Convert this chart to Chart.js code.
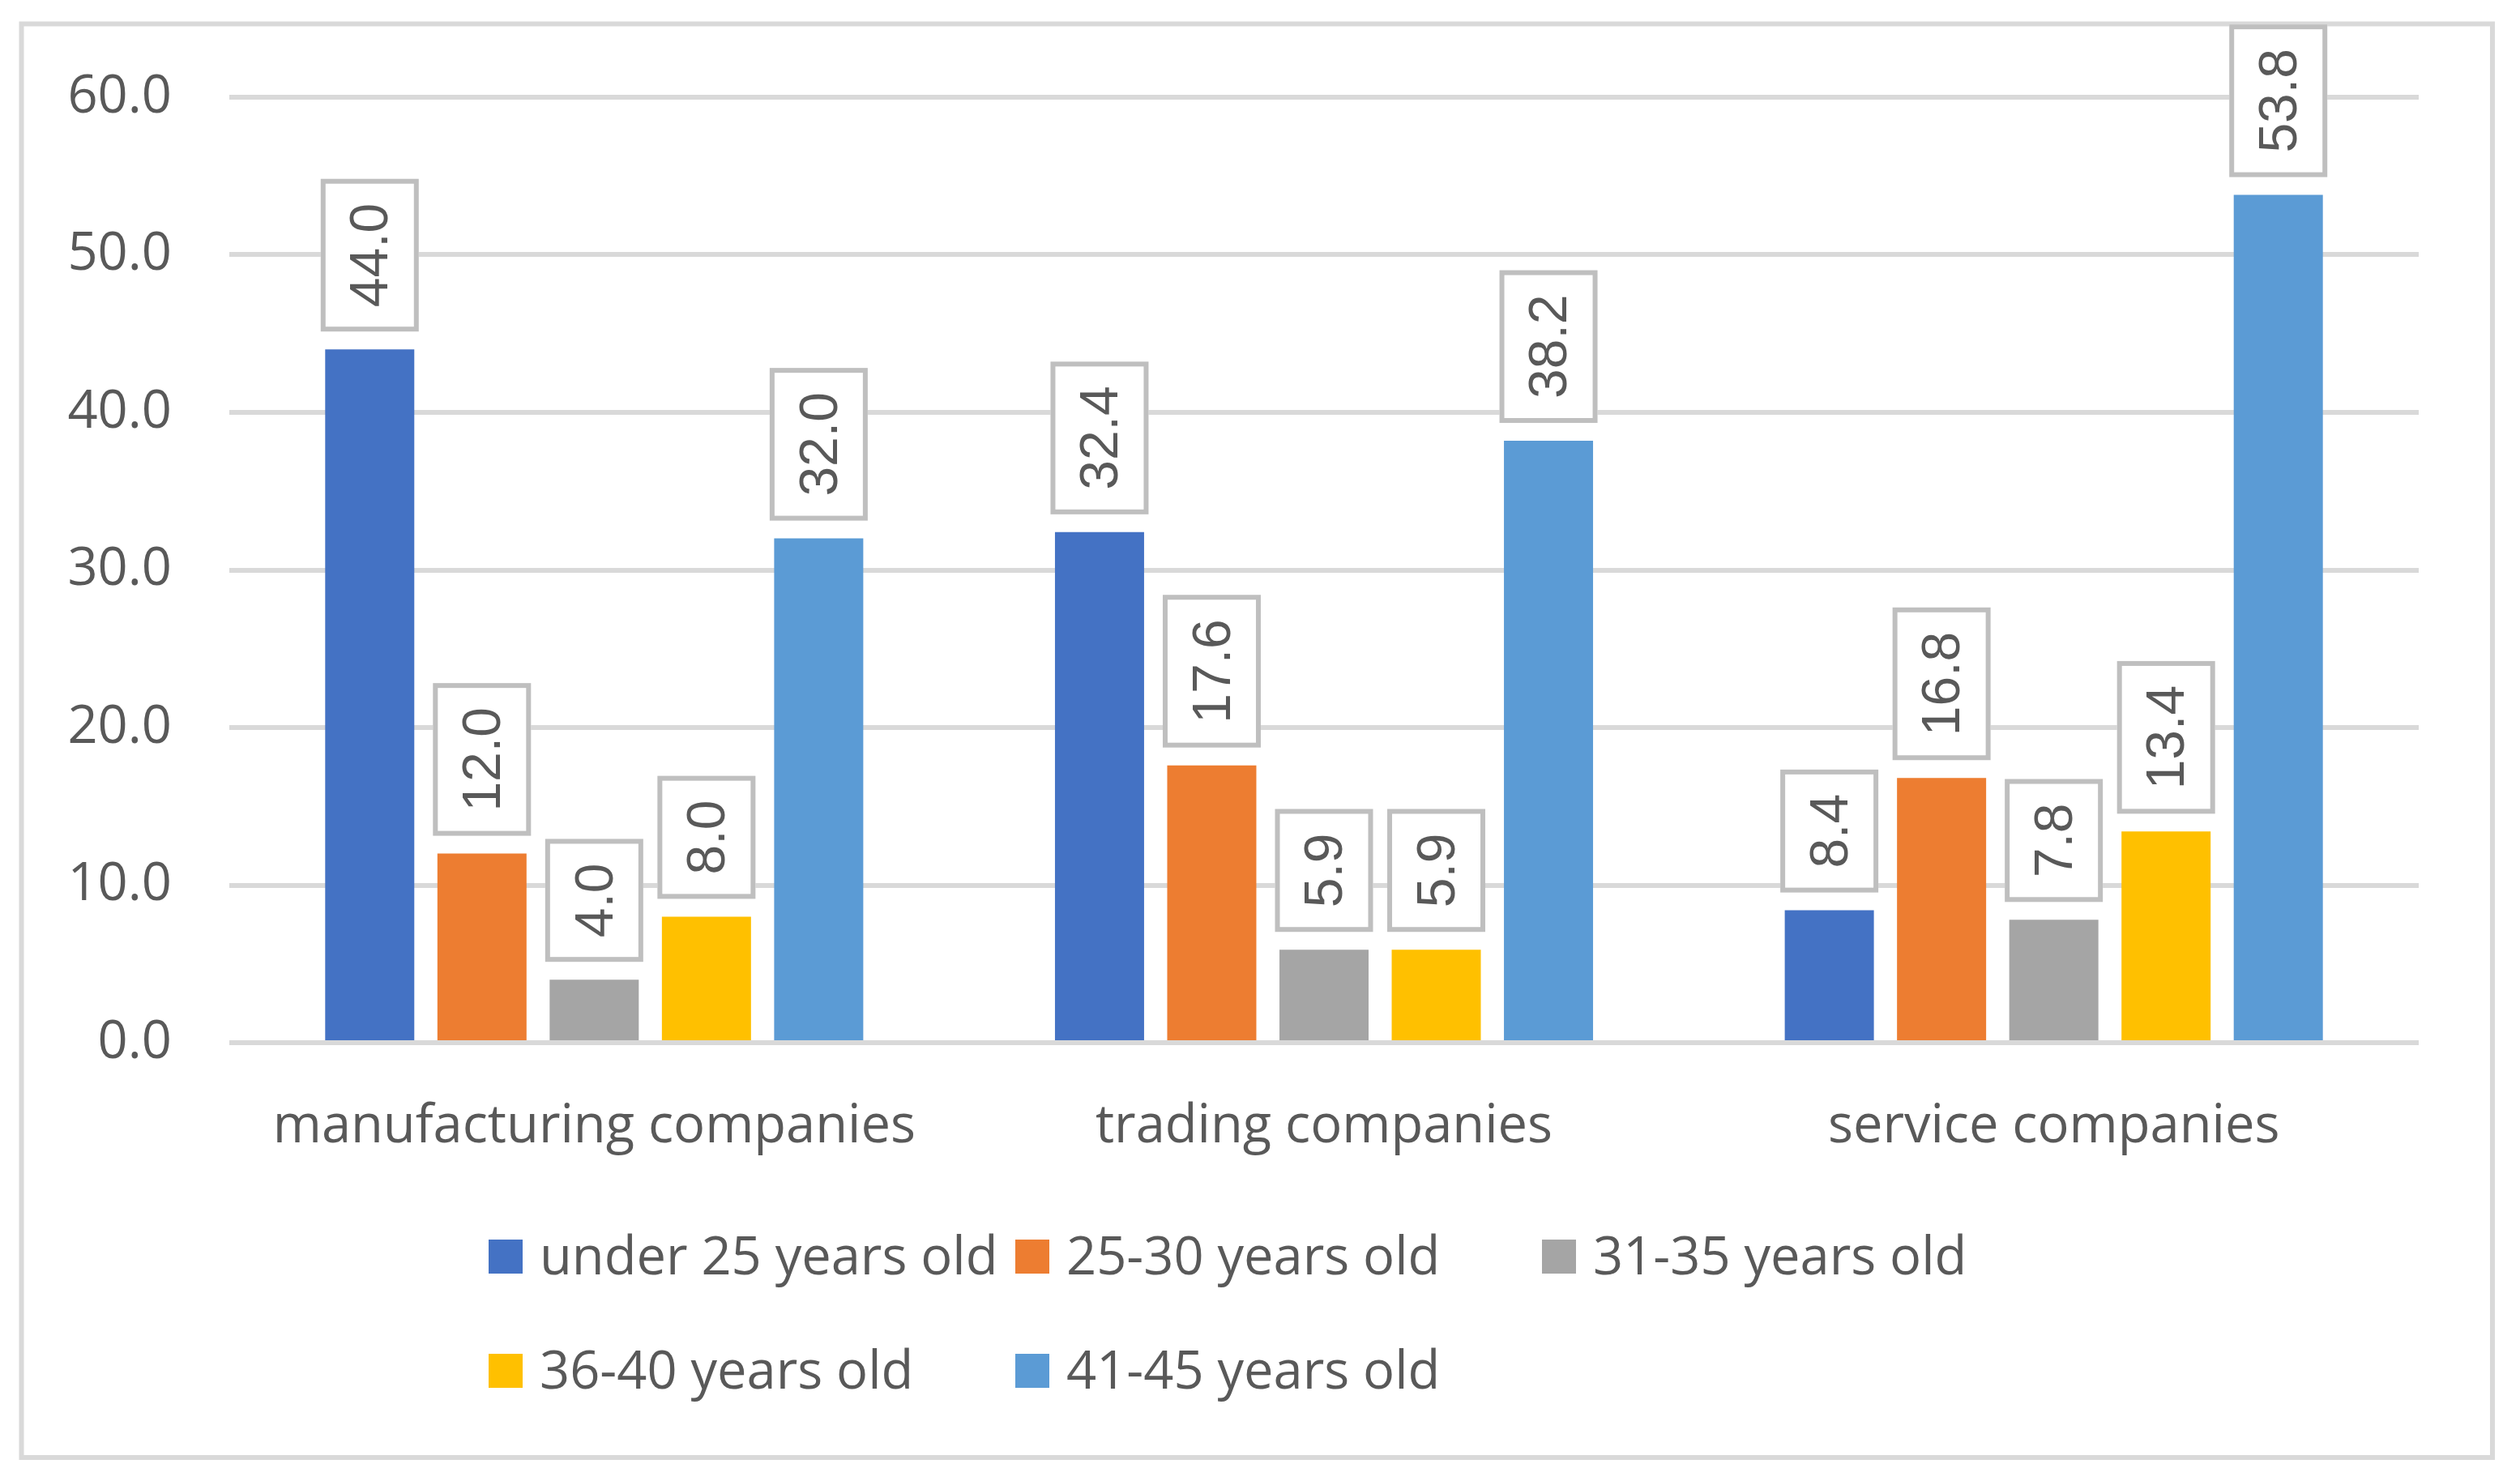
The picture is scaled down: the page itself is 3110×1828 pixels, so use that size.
<!DOCTYPE html>
<html>
<head>
<meta charset="utf-8">
<script src="https://cdn.jsdelivr.net/npm/chart.js@4.4.1/dist/chart.umd.min.js"></script>
<style>
html,body{margin:0;padding:0;background:#fff;}
canvas{display:block;}
</style>
</head>
<body>
<canvas id="c" width="3110" height="1828" style="width:3110px;height:1828px"></canvas>
<script>
// ---- data ----
const categories = ['manufacturing companies', 'trading companies', 'service companies'];
const seriesNames = ['under 25 years old', '25-30 years old', '31-35 years old', '36-40 years old', '41-45 years old'];
const under25 = [44.0, 32.4, 8.4];
const age25_30 = [12.0, 17.6, 16.8];
const age31_35 = [4.0, 5.9, 7.8];
const age36_40 = [8.0, 5.9, 13.4];
const age41_45 = [32.0, 38.2, 53.8];
const yTicks = [0, 10, 20, 30, 40, 50, 60];
const colors = ['#4472C4', '#ED7D31', '#A5A5A5', '#FFC000', '#5B9BD5'];

const seriesValues = [under25, age25_30, age31_35, age36_40, age41_45];
const TEXT = '#595959';
const FONT = '"Open Sans", sans-serif';

const W = 3110, H = 1828;
const AREA = {left: 283, right: 2985, top: 120, bottom: 1287};

const borderPlugin = {
  id: 'outerBorder',
  beforeDraw(chart) {
    const ctx = chart.ctx;
    ctx.save();
    ctx.fillStyle = '#fff';
    ctx.fillRect(0, 0, W, H);
    ctx.strokeStyle = '#d9d9d9';
    ctx.lineWidth = 6;
    ctx.strokeRect(26.5, 29.5, 3076 - 26.5, 1799 - 29.5);
    ctx.restore();
  }
};

const labelPlugin = {
  id: 'boxLabels',
  afterDatasetsDraw(chart) {
    const ctx = chart.ctx;
    ctx.save();
    ctx.font = '66px "Liberation Sans", Arial, sans-serif';
    chart.data.datasets.forEach((ds, di) => {
      const meta = chart.getDatasetMeta(di);
      meta.data.forEach((bar, i) => {
        const txt = ds.data[i].toFixed(1);
        const tw = ctx.measureText(txt).width;
        const bw = 121, bh = tw + 60;
        const bottom = bar.y - 22;
        const top = bottom - bh;
        const left = bar.x - bw / 2;
        ctx.fillStyle = '#fff';
        ctx.fillRect(left, top, bw, bh);
        ctx.strokeStyle = '#bfbfbf';
        ctx.lineWidth = 6;
        ctx.strokeRect(left + 3, top + 3, bw - 6, bh - 6);
        ctx.save();
        ctx.translate(bar.x + 1, top + bh / 2);
        ctx.rotate(-Math.PI / 2);
        ctx.fillStyle = TEXT;
        ctx.textAlign = 'center';
        ctx.textBaseline = 'middle';
        ctx.fillText(txt, 0, 3);
        ctx.restore();
      });
    });
    ctx.restore();
  }
};

const legendPlugin = {
  id: 'gridLegend',
  afterDraw(chart) {
    const ctx = chart.ctx;
    const x0 = 603, colStep = 650, y0 = 1530, rowStep = 141, sq = 42, cols = 3;
    ctx.save();
    ctx.font = '65px ' + FONT;
    ctx.textBaseline = 'alphabetic';
    ctx.textAlign = 'left';
    chart.data.datasets.forEach((ds, i) => {
      const c = i % cols, r = Math.floor(i / cols);
      const x = x0 + c * colStep, y = y0 + r * rowStep;
      ctx.fillStyle = ds.backgroundColor;
      ctx.fillRect(x, y, sq, sq);
      ctx.fillStyle = TEXT;
      ctx.fillText(ds.label, x + sq + 21, y + sq + 1);
    });
    ctx.restore();
  }
};

new Chart(document.getElementById('c'), {
  type: 'bar',
  data: {
    labels: categories,
    datasets: seriesNames.map((n, i) => ({
      label: n,
      data: seriesValues[i],
      backgroundColor: colors[i],
      borderWidth: 0,
      categoryPercentage: 0.769,
      barPercentage: 0.794
    }))
  },
  options: {
    responsive: false,
    devicePixelRatio: 1,
    animation: false,
    layout: {padding: {left: 0, right: W - AREA.right, top: AREA.top, bottom: 0}},
    plugins: {legend: {display: false}, tooltip: {enabled: false}},
    scales: {
      x: {
        grid: {display: false, drawTicks: false},
        border: {display: false},
        ticks: {color: TEXT, font: {family: FONT, size: 65}, padding: 65, maxRotation: 0, autoSkip: false},
        afterFit(s) { s.height = H - AREA.bottom; }
      },
      y: {
        min: 0, max: 60,
        afterBuildTicks(s) { s.ticks = yTicks.map(v => ({value: v})); },
        grid: {color: '#d9d9d9', lineWidth: 6, drawTicks: false},
        border: {display: false},
        ticks: {color: TEXT, font: {family: FONT, size: 65}, padding: 71, callback: v => Number(v).toFixed(1)},
        afterFit(s) { s.width = AREA.left; }
      }
    }
  },
  plugins: [borderPlugin, labelPlugin, legendPlugin]
});
</script>
</body>
</html>
